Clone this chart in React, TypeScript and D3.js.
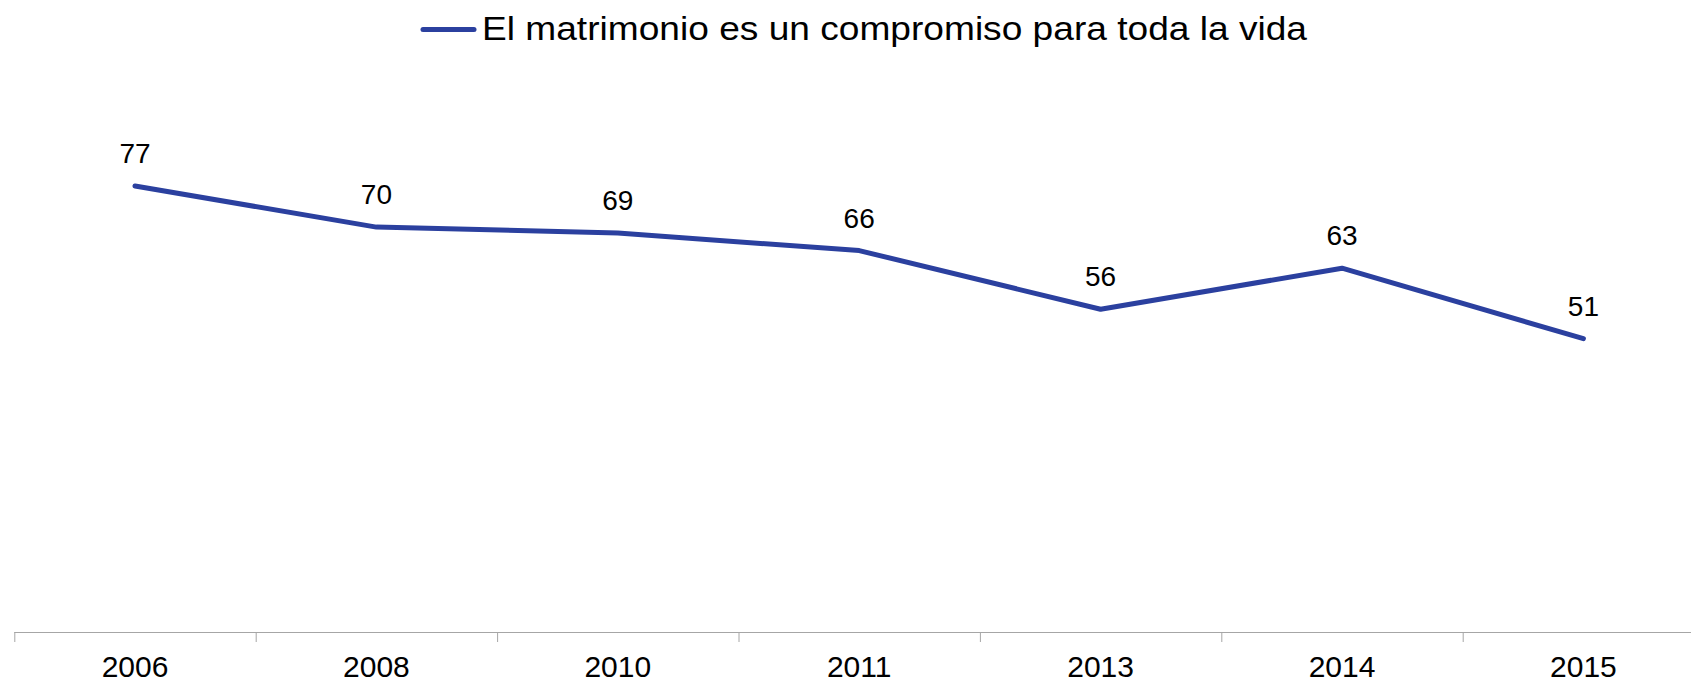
import React from "react";
import * as d3 from "d3";

const categories = ["2006", "2008", "2010", "2011", "2013", "2014", "2015"];
const values = [77, 70, 69, 66, 56, 63, 51];
const seriesName = "El matrimonio es un compromiso para toda la vida";

const W = 1691;
const H = 684;
const FONT = "'Liberation Sans', Arial, Helvetica, sans-serif";
const LINE_COLOR = "#2B409F";
const AXIS_COLOR = "#A6A6A6";

export default function App() {
  // x: band scale, axis extends beyond right edge (clipped like the original)
  const x = d3.scaleBand<string>().domain(categories).range([14.3, 14.3 + 241.4 * categories.length]);
  const y = d3.scaleLinear().domain([0, 100]).range([638, 51]);
  const axisY = 632;

  const pts = categories.map((c, i) => [x(c)! + x.bandwidth() / 2, y(values[i])] as [number, number]);
  const line = d3.line<[number, number]>()(pts) || "";

  const tickXs = categories.map((c) => x(c)!).concat([x.range()[1]]);

  return (
    <svg
      width={W}
      height={H}
      style={{ position: "absolute", left: 0, top: 0, background: "#fff" }}
      fontFamily={FONT}
    >
      <rect x={0} y={0} width={W} height={H} fill="#fff" />
      {/* legend */}
      <line x1={423} x2={474} y1={29.5} y2={29.5} stroke={LINE_COLOR} strokeWidth={5} strokeLinecap="round" />
      <text x={482} y={40} fontSize={33} fill="#000" textLength={825} lengthAdjust="spacingAndGlyphs">
        {seriesName}
      </text>

      {/* axis */}
      <line x1={x.range()[0]} x2={W} y1={axisY + 0.5} y2={axisY + 0.5} stroke={AXIS_COLOR} strokeWidth={1} />
      {tickXs.map((tx, i) => (
        <line key={i} x1={tx + 0.5} x2={tx + 0.5} y1={axisY} y2={axisY + 10} stroke={AXIS_COLOR} strokeWidth={1} />
      ))}
      {categories.map((c) => (
        <text key={c} x={x(c)! + x.bandwidth() / 2} y={677} fontSize={30} textAnchor="middle" fill="#000">
          {c}
        </text>
      ))}

      {/* series */}
      <path d={line} fill="none" stroke={LINE_COLOR} strokeWidth={5} strokeLinecap="round" strokeLinejoin="round" />
      {pts.map((p, i) => (
        <text key={i} x={p[0]} y={p[1] - 23} fontSize={28} textAnchor="middle" fill="#000">
          {values[i]}
        </text>
      ))}
    </svg>
  );
}
